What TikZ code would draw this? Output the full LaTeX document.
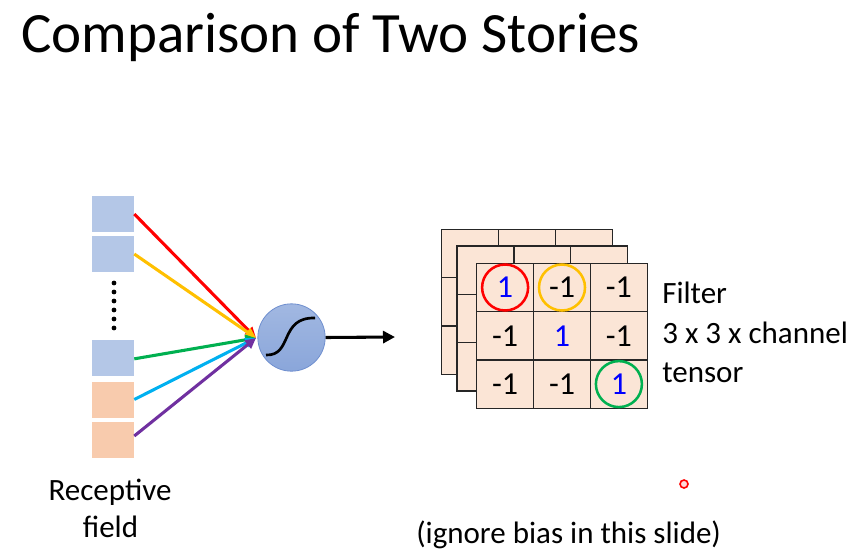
\documentclass[tikz,border=0pt]{standalone}
\usepackage{fontspec}
\setmainfont{Carlito}
\usetikzlibrary{arrows.meta}
\definecolor{sqblue}{HTML}{B4C7E7}
\definecolor{sqpeach}{HTML}{F8CBAD}
\definecolor{cellfill}{HTML}{FBE5D6}
\definecolor{neuronfill}{HTML}{8AA6DA}
\definecolor{neurondraw}{HTML}{6F8FCF}
\definecolor{ared}{HTML}{FF0000}
\definecolor{ayellow}{HTML}{FFC000}
\definecolor{agreen}{HTML}{00B050}
\definecolor{acyan}{HTML}{00B0F0}
\definecolor{apurple}{HTML}{7030A0}
\definecolor{numblue}{HTML}{0000FF}
\begin{document}
\begin{tikzpicture}[x=0.75pt,y=-0.75pt,
  inbox/.style={minimum width=31.5pt, minimum height=27pt, inner sep=0pt},
  bluebox/.style={inbox, fill=sqblue},
  peachbox/.style={inbox, fill=sqpeach},
  dotmark/.style={circle, fill=black, minimum size=3.6pt, inner sep=0pt},
  neuron/.style={circle, draw=neurondraw, line width=0.6pt, top color=neuronfill!80!white, bottom color=neuronfill, minimum size=50.5pt, inner sep=0pt},
  wire/.style={line width=2.3pt, -{Triangle[length=8pt,width=7.5pt]}},
  cell/.style={draw=black!85, line width=1pt, fill=cellfill, minimum width=42.7pt, minimum height=36.2pt, inner sep=0pt, font=\fontsize{24}{28}\selectfont},
  ring/.style={circle, draw=#1, line width=1.9pt, minimum size=34.5pt, inner sep=0pt},
  body/.style={font=\fontsize{23.25}{28}\selectfont, inner sep=0pt},
]
\useasboundingbox (0,0) rectangle (863,557);
\fill[white] (0,0) rectangle (863,557);

% title
\node[anchor=base west, inner sep=0pt, font=\fontsize{42.75}{50}\selectfont] (title) at (21,52) {Comparison of Two Stories};

% receptive field boxes
\node[bluebox] (s1) at (113,214) {};
\node[bluebox] (s2) at (113,254) {};
\node[bluebox] (s3) at (113,357.5) {};
\node[peachbox] (s4) at (113,399.5) {};
\node[peachbox] (s5) at (113,440) {};
\foreach \i in {0,...,5} \node[dotmark] (d\i) at (114,{283+\i*9}) {};

% neuron
\node[neuron] (neu) at (291.5,337.5) {};
\draw[line width=2pt] (266,355) .. controls (293,356) and (279,317) .. (315,318);
\coordinate (conv) at (256,338);
\coordinate (outend) at (395,337);

\draw[wire, ared] (s1.east) -- (conv);
\draw[wire, ayellow] (s2.east) -- (conv);
\draw[wire, agreen] ([yshift=-1pt]s3.east) -- (conv);
\draw[wire, acyan] (s4.east) -- (conv);
\draw[wire, apurple] ([yshift=3pt]s5.east) -- (conv);
\draw[line width=2.3pt, -{Triangle[length=9pt,width=9pt]}] (neu.east) -- (outend);

% filter layers
\foreach \r in {0,1,2} \foreach \c in {0,1,2}
  \node[cell] (b-\r-\c) at ({441.7+28.45+\c*56.9},{229.3+24.15+\r*48.3}) {};
\foreach \r in {0,1,2} \foreach \c in {0,1,2}
  \node[cell] (m-\r-\c) at ({457+28.45+\c*56.9},{246+24.15+\r*48.3}) {};

\node[cell, text=numblue] (f-0-0) at (505.1,287.5) {1};
\node[cell] (f-0-1) at (562.0,287.5) {-1};
\node[cell] (f-0-2) at (618.9,287.5) {-1};
\node[cell] (f-1-0) at (505.1,335.8) {-1};
\node[cell, text=numblue] (f-1-1) at (562.0,335.8) {1};
\node[cell] (f-1-2) at (618.9,335.8) {-1};
\node[cell] (f-2-0) at (505.1,384.1) {-1};
\node[cell] (f-2-1) at (562.0,384.1) {-1};
\node[cell, text=numblue] (f-2-2) at (618.9,384.1) {1};

\node[ring=ared] (rr) at (f-0-0) {};
\node[ring=ayellow] (ry) at (f-0-1) {};
\node[ring=agreen] (rg) at (f-2-2) {};

% labels
\node[body, anchor=base west] (l1) at (662,303) {Filter};
\node[body, anchor=base west] (l2) at (662,343) {3 x 3 x channel};
\node[body, anchor=base west] (l3) at (662,382) {tensor};
\node[body, anchor=base] (rf1) at (110,500) {Receptive};
\node[body, anchor=base] (rf2) at (110.5,537) {field};
\node[body, anchor=base west] (bias) at (416,543) {(ignore bias in this slide)};

% pointer dot
\node[circle, draw=red, fill=red!15, line width=1.2pt, minimum size=6pt, inner sep=0pt] (laser) at (684,484) {};
\end{tikzpicture}
\end{document}
